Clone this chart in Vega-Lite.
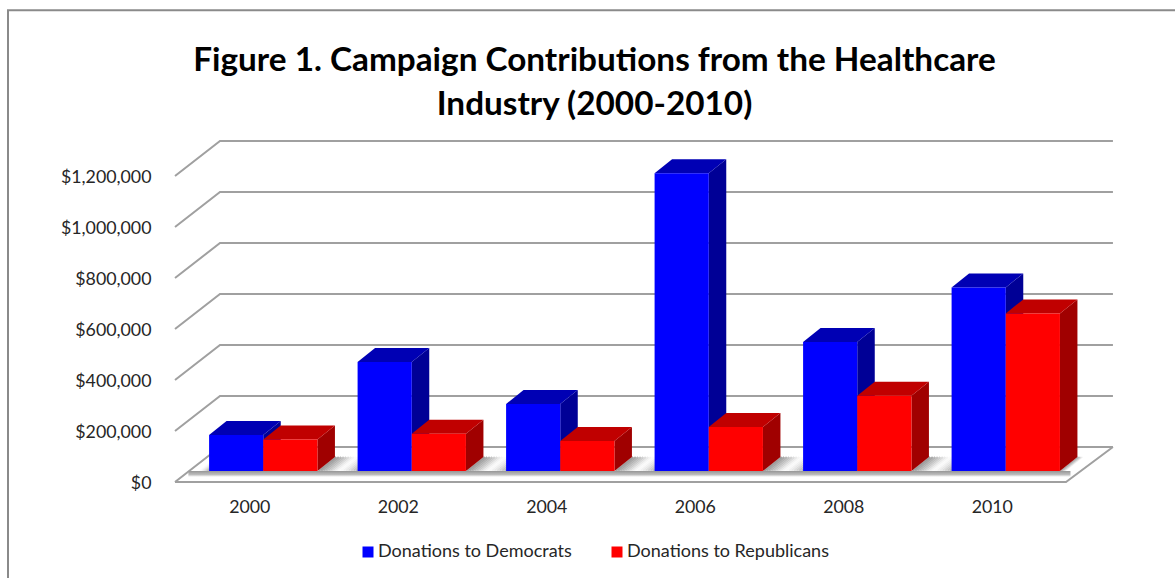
{
  "$schema": "https://vega.github.io/schema/vega-lite/v6.json",
  "autosize": "none",
  "width": 891,
  "height": 306,
  "padding": {"left": 175, "top": 176, "right": 109, "bottom": 96},
  "background": "white",
  "config": {"view": {"stroke": null}, "font": "Lato"},
  "title": {
    "text": ["Figure 1. Campaign Contributions from the Healthcare", "Industry (2000-2010)"],
    "font": "Lato", "fontSize": 33.3, "fontWeight": "bold", "color": "#000000",
    "anchor": "middle", "frame": "group", "dx": -26, "dy": 116, "offset": 0, "lineHeight": 44
  },
  "params": [
    {"name": "dX", "value": 0.1178},
    {"name": "dY", "value": 54902},
    {"name": "floorY", "value": 43137},
    {"name": "barW", "value": 0.3648},
    {"name": "wallX", "value": 0.303},
    {"name": "wallY", "value": 137255}
  ],
  "datasets": {
    "donations": [
      {"year": 2000, "party": "Donations to Democrats", "amount": 141000},
      {"year": 2002, "party": "Donations to Democrats", "amount": 427000},
      {"year": 2004, "party": "Donations to Democrats", "amount": 263000},
      {"year": 2006, "party": "Donations to Democrats", "amount": 1168000},
      {"year": 2008, "party": "Donations to Democrats", "amount": 506000},
      {"year": 2010, "party": "Donations to Democrats", "amount": 720000},
      {"year": 2000, "party": "Donations to Republicans", "amount": 124000},
      {"year": 2002, "party": "Donations to Republicans", "amount": 146000},
      {"year": 2004, "party": "Donations to Republicans", "amount": 118000},
      {"year": 2006, "party": "Donations to Republicans", "amount": 173000},
      {"year": 2008, "party": "Donations to Republicans", "amount": 295000},
      {"year": 2010, "party": "Donations to Republicans", "amount": 618000}
    ],
    "levels": [
      {"level": 0}, {"level": 200000}, {"level": 400000}, {"level": 600000},
      {"level": 800000}, {"level": 1000000}, {"level": 1200000}
    ],
    "gaps": [
      {"gap": 0}, {"gap": 1}, {"gap": 2}, {"gap": 3}, {"gap": 4}, {"gap": 5}, {"gap": 6}
    ],
    "corners": [{"corner": 0}, {"corner": 1}, {"corner": 2}]
  },
  "encoding": {
    "x": {
      "field": "px", "type": "quantitative",
      "scale": {"domain": [0, 6], "nice": false, "zero": false},
      "axis": {
        "title": null, "grid": false, "domain": false, "ticks": false,
        "values": [0.5, 1.5, 2.5, 3.5, 4.5, 5.5],
        "labelExpr": "'' + (2000 + 2 * floor(datum.value))",
        "labelFont": "Lato", "labelFontSize": 17.8, "labelColor": "#262626", "labelPadding": 16
      }
    },
    "y": {
      "field": "py", "type": "quantitative",
      "scale": {"domain": [0, 1200000], "nice": false},
      "axis": {
        "title": null, "grid": false, "domain": false, "ticks": false,
        "values": [0, 200000, 400000, 600000, 800000, 1000000, 1200000],
        "format": "$,.0f",
        "labelFont": "Lato", "labelFontSize": 17.8, "labelColor": "#262626", "labelPadding": 24, "labelOffset": 1
      }
    }
  },
  "layer": [
    {
      "description": "Outer chart frame, up the left edge and along the top",
      "data": {"name": "corners"},
      "transform": [
        {"calculate": "[-1.1246, -1.1246, 7][datum.corner]", "as": "px"},
        {"calculate": "[-400000, 1850000, 1850000][datum.corner]", "as": "py"}
      ],
      "mark": {"type": "line", "color": "#8a8a8a", "strokeWidth": 2},
      "encoding": {"order": {"field": "corner"}}
    },
    {
      "description": "Gridlines run up the side wall, then along the back wall",
      "data": {"name": "levels"},
      "transform": [
        {"calculate": "[0,1,2]", "as": "t"},
        {"flatten": ["t"]},
        {"calculate": "[0, wallX, 6 + wallX + 0.013][datum.t]", "as": "px"},
        {"calculate": "datum.level + (datum.t > 0 ? wallY : 0)", "as": "py"}
      ],
      "mark": {"type": "line", "color": "#a0a0a0", "strokeWidth": 2},
      "encoding": {
        "detail": {"field": "level"},
        "order": {"field": "t"}
      }
    },
    {
      "description": "Front and right edges of the floor",
      "data": {"name": "corners"},
      "transform": [
        {"calculate": "[0, 6, 6 + wallX + 0.013][datum.corner]", "as": "px"},
        {"calculate": "datum.corner == 2 ? wallY : 0", "as": "py"}
      ],
      "mark": {"type": "line", "color": "#a0a0a0", "strokeWidth": 2},
      "encoding": {"order": {"field": "corner"}}
    },
    {
      "description": "Soft floor shadow between the bar groups, as thin slanted stripes fading from dark to light",
      "data": {"name": "gaps"},
      "transform": [
        {"calculate": "datum.gap == 0 ? 0.094 : datum.gap - 1 + 0.2296 + 2 * barW", "as": "gl"},
        {"calculate": "datum.gap == 6 ? 6.04 : datum.gap + 0.2296", "as": "gr"},
        {"calculate": "[0,1,2,3,4,5,6,7,8,9,10,11,12,13,14,15]", "as": "s"},
        {"flatten": ["s"]},
        {"calculate": "[0.75,0.66,0.56,0.46,0.36,0.26,0.16,0.08,0.03,0.05,0.1,0.16,0.24,0.32,0.42,0.52][datum.s] * (datum.gap == 0 && datum.s < 8 ? 0 : 1) * (datum.gap == 6 && datum.s > 7 ? 0 : 1)", "as": "shade"},
        {"calculate": "(datum.gr - datum.gl) / 16 * 148.5 * 0.625 + 0.25", "as": "stripeWidth"},
        {"calculate": "[0,1]", "as": "t"},
        {"flatten": ["t"]},
        {"calculate": "datum.gl + (datum.s + 0.5) * (datum.gr - datum.gl) / 16 + datum.t * dX", "as": "px"},
        {"calculate": "floorY + datum.t * dY", "as": "py"},
        {"calculate": "datum.gap * 100 + datum.s", "as": "stripe"}
      ],
      "mark": {"type": "line", "color": "#808080", "strokeCap": "butt"},
      "encoding": {
        "detail": {"field": "stripe"},
        "order": {"field": "t"},
        "opacity": {"field": "shade", "type": "quantitative", "scale": null, "legend": null},
        "size": {"field": "stripeWidth", "type": "quantitative", "scale": null, "legend": null}
      }
    },
    {
      "description": "Shadow strip along the feet of the bars",
      "data": {"name": "corners"},
      "transform": [
        {"filter": "datum.corner == 0"},
        {"calculate": "0.09", "as": "px"},
        {"calculate": "6.03", "as": "px2"},
        {"calculate": "floorY", "as": "py"},
        {"calculate": "20000", "as": "py2"}
      ],
      "mark": {
        "type": "rect",
        "color": {
          "gradient": "linear", "x1": 0, "y1": 0, "x2": 0, "y2": 1,
          "stops": [
            {"offset": 0, "color": "#969696"},
            {"offset": 0.6, "color": "#bcbcbc"},
            {"offset": 1, "color": "#ffffff"}
          ]
        }
      },
      "encoding": {
        "x2": {"field": "px2"},
        "y2": {"field": "py2"}
      }
    },
    {
      "description": "Right-hand faces of the bars",
      "data": {"name": "donations"},
      "transform": [
        {"calculate": "(datum.year - 2000) / 2 + 0.2296 + (datum.party === 'Donations to Republicans' ? barW : 0)", "as": "xl"},
        {"calculate": "[0,1]", "as": "t"},
        {"flatten": ["t"]},
        {"calculate": "datum.xl + barW + datum.t * dX", "as": "px"},
        {"calculate": "datum.amount + floorY + datum.t * dY", "as": "py"},
        {"calculate": "floorY + datum.t * dY", "as": "py2"},
        {"calculate": "datum.year + datum.party", "as": "barId"}
      ],
      "mark": {"type": "area", "orient": "vertical"},
      "encoding": {
        "y2": {"field": "py2"},
        "detail": {"field": "barId"},
        "color": {"condition": {"test": "datum.party === 'Donations to Democrats'", "value": "#000096"}, "value": "#a00000"}
      }
    },
    {
      "description": "Top faces of the bars",
      "data": {"name": "donations"},
      "transform": [
        {"calculate": "(datum.year - 2000) / 2 + 0.2296 + (datum.party === 'Donations to Republicans' ? barW : 0)", "as": "xl"},
        {"calculate": "datum.amount + floorY", "as": "front"},
        {"calculate": "[0,1,2,3]", "as": "t"},
        {"flatten": ["t"]},
        {"calculate": "[datum.xl, datum.xl + dX, datum.xl + barW, datum.xl + barW + dX][datum.t]", "as": "px"},
        {"calculate": "datum.front + (datum.t > 0 ? dY : 0)", "as": "py"},
        {"calculate": "datum.front + (datum.t == 3 ? dY : 0)", "as": "py2"},
        {"calculate": "datum.year + datum.party", "as": "barId"}
      ],
      "mark": {"type": "area", "orient": "vertical"},
      "encoding": {
        "y2": {"field": "py2"},
        "detail": {"field": "barId"},
        "color": {"condition": {"test": "datum.party === 'Donations to Democrats'", "value": "#0000b4"}, "value": "#c00000"}
      }
    },
    {
      "description": "Front faces of the bars and the legend",
      "data": {"name": "donations"},
      "transform": [
        {"calculate": "(datum.year - 2000) / 2 + 0.2296 + (datum.party === 'Donations to Republicans' ? barW : 0)", "as": "px"},
        {"calculate": "datum.px + barW", "as": "px2"},
        {"calculate": "datum.amount + floorY", "as": "py"},
        {"calculate": "floorY", "as": "py2"}
      ],
      "mark": {"type": "rect"},
      "encoding": {
        "x2": {"field": "px2"},
        "y2": {"field": "py2"},
        "color": {
          "field": "party", "type": "nominal",
          "scale": {"domain": ["Donations to Democrats", "Donations to Republicans"], "range": ["#0000ff", "#ff0000"]},
          "legend": {
            "title": null, "orient": "none", "direction": "horizontal",
            "legendX": 184, "legendY": 367, "columns": 2,
            "symbolType": "square", "symbolSize": 121, "symbolStrokeWidth": 0,
            "labelFont": "Lato", "labelFontSize": 18, "labelColor": "#262626", "labelLimit": 300,
            "labelOffset": 1, "columnPadding": 36
          }
        }
      }
    }
  ]
}
